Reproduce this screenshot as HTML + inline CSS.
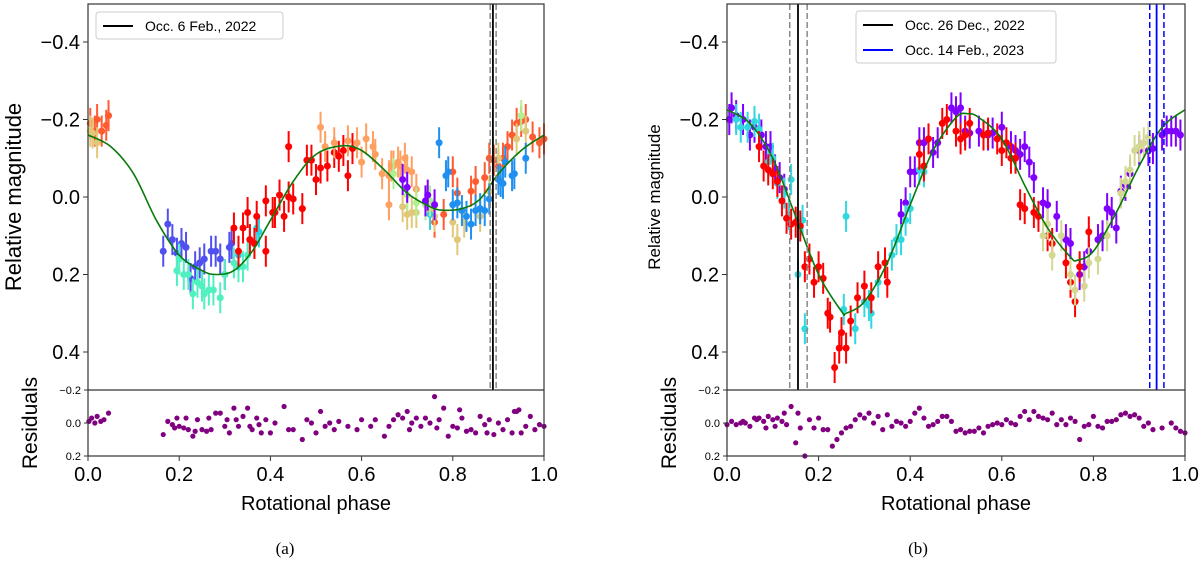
<!DOCTYPE html>
<html><head><meta charset="utf-8"><style>
body{margin:0;background:#fff}svg{display:block}text{font-family:"Liberation Sans","DejaVu Sans",sans-serif}
</style></head><body>
<svg id="s" width="1200" height="563" xmlns="http://www.w3.org/2000/svg"></svg>
<script>
// ---------- data: panel a ----------
const modelA_phase=[0,0.05,0.1,0.15,0.2,0.25,0.28,0.32,0.36,0.4,0.45,0.5,0.557,0.6,0.65,0.7,0.75,0.777,0.82,0.86,0.9,0.95,1.0];
const modelA_mag=[-0.16,-0.13,-0.06,0.06,0.15,0.19,0.2,0.19,0.14,0.06,-0.04,-0.11,-0.132,-0.12,-0.07,-0.01,0.025,0.034,0.03,0.005,-0.06,-0.12,-0.16];
const groupsA=[
{c:'#ff5a30',p:[0.005,0.015,0.02,0.03,0.04,0.045,0.76,0.78,0.8,0.81,0.84,0.85,0.87,0.88,0.89,0.9,0.91,0.92,0.93,0.94,0.95,0.96,0.975,0.99,1.0],m:[-0.19,-0.17,-0.2,-0.17,-0.185,-0.21,0.065,0.045,-0.065,-0.01,-0.015,-0.04,-0.05,-0.1,-0.095,-0.08,-0.1,-0.13,-0.16,-0.19,-0.195,-0.2,-0.155,-0.14,-0.15]},
{c:'#e0c878',p:[0.005,0.01,0.02,0.69,0.7,0.71,0.72,0.75,0.76,0.8,0.81,0.825,0.86,0.88,0.9,0.94,0.96],m:[-0.17,-0.165,-0.14,0.025,0.045,0.04,0.04,0.035,0.05,0.065,0.11,0.065,0.05,-0.015,-0.1,-0.15,-0.17]},
{c:'#5050f0',p:[0.165,0.175,0.185,0.195,0.205,0.215,0.225,0.235,0.245,0.255,0.27,0.28,0.29,0.3,0.31,0.315],m:[0.14,0.07,0.11,0.145,0.12,0.13,0.21,0.18,0.17,0.16,0.14,0.14,0.16,0.2,0.13,0.12]},
{c:'#50f0c0',p:[0.195,0.2,0.21,0.22,0.23,0.24,0.25,0.255,0.265,0.275,0.29,0.3,0.32,0.33,0.34,0.35],m:[0.19,0.16,0.2,0.2,0.25,0.22,0.23,0.25,0.24,0.24,0.26,0.2,0.17,0.18,0.18,0.15]},
{c:'#30d0e0',p:[0.33,0.355,0.37,0.375,0.75],m:[0.15,0.11,0.08,0.09,0.045]},
{c:'#ff0000',p:[0.32,0.33,0.34,0.35,0.355,0.365,0.37,0.39,0.39,0.405,0.41,0.42,0.43,0.44,0.45,0.44,0.47,0.48,0.49,0.5,0.51,0.525,0.54,0.55,0.56,0.57,0.58],m:[0.08,0.14,0.08,0.04,0.11,0.12,0.05,0.14,0.01,0.04,0.04,-0.005,0.05,0,0.005,-0.13,0.03,-0.095,-0.095,-0.045,-0.075,-0.08,-0.115,-0.105,-0.12,-0.055,-0.125]},
{c:'#ffa060',p:[0.51,0.52,0.54,0.57,0.59,0.6,0.61,0.625,0.63,0.645,0.66,0.665,0.67,0.68,0.685,0.695,0.66,0.7,0.71,0.72],m:[-0.18,-0.13,-0.14,-0.145,-0.14,-0.09,-0.15,-0.13,-0.11,-0.06,-0.055,-0.08,-0.08,-0.09,-0.08,-0.1,0.02,-0.07,-0.065,-0.02]},
{c:'#b0f090',p:[0.67,0.7,0.72,0.74,0.75,0.76,0.95],m:[-0.06,-0.005,0.015,0.02,0.01,0.025,-0.21]},
{c:'#8000ff',p:[0.69,0.7,0.74,0.745,0.76],m:[-0.045,-0.025,0.01,-0.005,0.02]},
{c:'#2090f0',p:[0.77,0.785,0.79,0.8,0.81,0.82,0.83,0.84,0.85,0.86,0.87,0.88,0.9,0.905,0.91,0.915,0.93,0.935,0.96],m:[-0.14,-0.055,-0.065,0.02,0.015,0.035,0.05,0.07,0.035,0.03,0.035,0.005,-0.045,-0.04,-0.035,-0.09,-0.055,-0.06,-0.1]}
];
const resA_phase=[0.002,0.008,0.015,0.02,0.028,0.035,0.045,0.165,0.175,0.185,0.19,0.195,0.2,0.21,0.215,0.22,0.23,0.235,0.24,0.25,0.26,0.265,0.27,0.28,0.29,0.3,0.305,0.31,0.32,0.325,0.33,0.34,0.35,0.355,0.36,0.37,0.375,0.38,0.39,0.4,0.41,0.43,0.44,0.45,0.47,0.48,0.49,0.5,0.51,0.52,0.53,0.54,0.55,0.57,0.59,0.6,0.62,0.63,0.65,0.66,0.67,0.68,0.69,0.7,0.705,0.71,0.72,0.73,0.74,0.75,0.76,0.765,0.77,0.78,0.79,0.8,0.81,0.815,0.82,0.83,0.84,0.85,0.86,0.87,0.875,0.88,0.89,0.9,0.91,0.92,0.93,0.935,0.94,0.945,0.95,0.96,0.97,0.98,0.99,1.0];
const resA_val=[-0.01,-0.03,0,-0.04,-0.01,-0.02,-0.06,0.07,-0.01,0.01,0.03,-0.03,0.02,0.03,-0.03,0.04,0.08,0.05,-0.02,0.04,0.05,-0.03,0.04,-0.06,-0.06,0.02,-0.02,0.06,-0.09,-0.02,0.02,-0.04,-0.09,0.02,0.04,-0.03,0.01,0.06,-0.02,0.06,0,-0.1,0.04,0.04,0.1,-0.02,0,0.06,-0.07,0.02,0,0.04,-0.01,0.02,0.04,-0.02,0.02,-0.02,0.08,0.02,-0.02,-0.05,-0.03,-0.07,0.04,0,-0.03,0.02,-0.03,0,-0.16,0.03,-0.02,-0.09,0.08,0.02,0.03,-0.08,-0.03,0.05,0.04,0.06,-0.04,0.01,0.06,-0.02,0.07,0,0.04,-0.02,0.06,-0.07,-0.07,-0.08,0.06,0.02,-0.04,0.04,0.01,0.02];
// ---------- data: panel b ----------
const modelB_phase=[0,0.05,0.1,0.15,0.2,0.25,0.26,0.3,0.35,0.4,0.45,0.5,0.525,0.55,0.6,0.65,0.7,0.75,0.765,0.8,0.85,0.9,0.95,1.0];
const modelB_mag=[-0.225,-0.19,-0.1,0.05,0.2,0.295,0.3,0.27,0.17,0.02,-0.12,-0.205,-0.215,-0.205,-0.15,-0.03,0.08,0.155,0.163,0.14,0.04,-0.08,-0.18,-0.225];
const groupsB=[
{c:'#8000ff',p:[0.005,0.01,0.02,0.035,0.05,0.06,0.075,0.085,0.095,0.105,0.115,0.125,0.38,0.39,0.4,0.41,0.42,0.43,0.45,0.46,0.49,0.5,0.51,0.52,0.53,0.55,0.57,0.58,0.6,0.62,0.63,0.64,0.65,0.66,0.67,0.69,0.7,0.72,0.74,0.75,0.77,0.78,0.79,0.81,0.82,0.83,0.84,0.85,0.86,0.87,0.88,0.9,0.92,0.93,0.95,0.96,0.97,0.98,0.99],m:[-0.2,-0.23,-0.21,-0.2,-0.16,-0.18,-0.16,-0.13,-0.13,-0.07,-0.05,-0.02,0.045,0.015,-0.065,-0.065,-0.14,-0.14,-0.115,-0.14,-0.23,-0.22,-0.23,-0.17,-0.165,-0.17,-0.16,-0.165,-0.18,-0.13,-0.12,-0.11,-0.13,-0.09,-0.05,0.015,0.02,0.05,0.11,0.12,0.2,0.18,0.14,0.11,0.1,0.03,0.04,0.08,-0.015,-0.03,-0.06,-0.12,-0.12,-0.125,-0.16,-0.17,-0.17,-0.17,-0.16]},
{c:'#30d8e0',p:[0.02,0.03,0.045,0.06,0.07,0.09,0.1,0.11,0.125,0.135,0.14,0.155,0.165,0.17,0.26,0.255,0.28,0.3,0.31,0.315,0.33,0.36,0.37,0.38,0.39,0.4,0.42,0.43],m:[-0.2,-0.18,-0.18,-0.195,-0.175,-0.09,-0.1,-0.035,-0.01,0.045,-0.045,0.2,0.06,0.34,0.05,0.29,0.34,0.27,0.28,0.3,0.22,0.15,0.11,0.11,0.06,0.03,-0.07,-0.065]},
{c:'#ff0000',p:[0.07,0.08,0.09,0.1,0.11,0.12,0.13,0.14,0.15,0.16,0.17,0.18,0.19,0.2,0.21,0.22,0.225,0.235,0.245,0.25,0.26,0.27,0.285,0.3,0.315,0.33,0.345,0.35,0.42,0.43,0.44,0.47,0.48,0.5,0.51,0.52,0.53,0.56,0.57,0.59,0.6,0.61,0.62,0.63,0.64,0.65,0.67,0.68,0.7,0.71,0.74,0.75,0.76,0.77,0.79],m:[-0.13,-0.08,-0.07,-0.06,-0.04,0.01,0.055,0.07,0.065,0.075,0.18,0.16,0.22,0.18,0.21,0.3,0.31,0.44,0.39,0.35,0.39,0.32,0.26,0.23,0.26,0.18,0.17,0.22,-0.11,-0.08,-0.15,-0.19,-0.2,-0.17,-0.15,-0.16,-0.19,-0.16,-0.165,-0.15,-0.12,-0.14,-0.1,-0.1,0.02,0.03,0.04,0.05,0.1,0.12,0.17,0.22,0.27,0.18,0.09]},
{c:'#d4d890',p:[0.69,0.7,0.71,0.73,0.75,0.76,0.78,0.79,0.81,0.83,0.86,0.87,0.88,0.89,0.9,0.91,0.92],m:[0.1,0.07,0.15,0.1,0.2,0.24,0.23,0.17,0.16,0.1,-0.01,-0.04,-0.07,-0.12,-0.13,-0.14,-0.155]}
];
const resB_phase=[0,0.01,0.02,0.03,0.035,0.04,0.05,0.06,0.065,0.07,0.08,0.085,0.09,0.1,0.105,0.11,0.12,0.125,0.13,0.14,0.15,0.155,0.16,0.17,0.18,0.19,0.2,0.21,0.22,0.23,0.24,0.25,0.26,0.27,0.28,0.29,0.3,0.31,0.32,0.33,0.34,0.35,0.36,0.37,0.38,0.39,0.4,0.41,0.42,0.43,0.44,0.45,0.46,0.47,0.48,0.49,0.5,0.51,0.52,0.53,0.54,0.55,0.56,0.57,0.58,0.59,0.6,0.61,0.62,0.63,0.64,0.65,0.66,0.67,0.68,0.69,0.7,0.71,0.72,0.73,0.74,0.75,0.76,0.77,0.78,0.79,0.8,0.81,0.82,0.83,0.84,0.85,0.86,0.87,0.88,0.89,0.9,0.91,0.92,0.93,0.95,0.97,0.98,0.99,1.0];
const resB_val=[0.01,-0.01,0.01,0,-0.01,0,0.02,-0.03,-0.02,-0.03,-0.01,0.03,-0.04,-0.02,0.02,-0.03,-0.01,-0.06,0.01,-0.1,0.12,-0.06,0.03,0.2,-0.02,0.03,-0.03,0.04,0.04,0.14,0.1,0.06,0.03,0.02,-0.02,-0.05,-0.03,-0.06,0,-0.04,0.04,-0.05,0.02,-0.01,0,0.02,-0.01,-0.06,-0.09,-0.03,0.02,0.01,-0.01,-0.04,-0.04,-0.01,0.05,0.04,0.06,0.05,0.05,0.03,0.06,0.02,0.01,0,0.01,-0.02,0,0.01,-0.04,-0.07,-0.02,-0.07,-0.04,-0.03,-0.02,-0.06,0.01,-0.02,0.01,-0.03,-0.01,0.1,0.02,0.01,-0.04,0.02,0.03,-0.01,-0.01,-0.02,-0.05,-0.06,-0.04,-0.05,-0.03,0.02,0,0.04,0.03,0,0.03,0.05,0.06];
// ---------- drawing ----------
const NS='http://www.w3.org/2000/svg',S=document.getElementById('s');
function el(t,a,txt){const e=document.createElementNS(NS,t);for(const k in a)e.setAttribute(k,a[k]);if(txt!==undefined)e.textContent=txt;S.appendChild(e);return e;}
function panel(P){
 const X=p=>P.x0+p*(P.x1-P.x0);
 const Y=m=>197+m*387.5;
 const RY=r=>423+r*(456-390)/0.4;
 // smooth model path (Catmull-Rom through sampled points)
 const pts=P.mp.map((p,i)=>[X(p),Y(P.mm[i])]);
 let d='M'+pts[0][0].toFixed(1)+' '+pts[0][1].toFixed(1);
 for(let i=0;i<pts.length-1;i++){const p0=pts[Math.max(0,i-1)],p1=pts[i],p2=pts[i+1],p3=pts[Math.min(pts.length-1,i+2)];
  const c1=[p1[0]+(p2[0]-p0[0])/6,p1[1]+(p2[1]-p0[1])/6],c2=[p2[0]-(p3[0]-p1[0])/6,p2[1]-(p3[1]-p1[1])/6];
  d+=`C${c1[0].toFixed(1)} ${c1[1].toFixed(1)} ${c2[0].toFixed(1)} ${c2[1].toFixed(1)} ${p2[0].toFixed(1)} ${p2[1].toFixed(1)}`;}
 P.groups.forEach((g,gi)=>{g.p.forEach((p,i)=>{
  const l=el('line',{x1:X(p),x2:X(p),y1:Y(g.m[i]-0.04),y2:Y(g.m[i]+0.04),stroke:g.c,'stroke-width':2});
  
  
  const c=el('circle',{cx:X(p),cy:Y(g.m[i]),r:3.5,fill:g.c});
  
  
 });});
 const g=el('path',{d:d,fill:'none',stroke:'#0a7a0a','stroke-width':1.6});
 
 
 P.occ.forEach(o=>{
  const a=el('line',{x1:X(o.p),x2:X(o.p),y1:4,y2:390,stroke:o.c,'stroke-width':1.8});
  
  
  [o.lo,o.hi].forEach(q=>{const b=el('line',{x1:X(q),x2:X(q),y1:4,y2:390,stroke:o.dc,'stroke-width':1.5,'stroke-dasharray':'6,3'});
  
  });
 });
 P.rp.forEach((p,i)=>{const c=el('circle',{cx:X(p),cy:RY(P.rv[i]),r:2.6,fill:'#800080'});
  
  });
 const f=el('rect',{x:P.x0,y:4,width:P.x1-P.x0,height:452,fill:'none',stroke:'#333','stroke-width':1.2});
 
 
 const sep=el('line',{x1:P.x0,x2:P.x1,y1:390,y2:390,stroke:'#333','stroke-width':1.2});
 
 
 [-0.4,-0.2,0,0.2,0.4].forEach(v=>{el('line',{x1:P.x0-5,x2:P.x0,y1:Y(v),y2:Y(v),stroke:'#333'});
  const t=el('text',{x:P.x0-8,y:Y(v)+7,'text-anchor':'end','font-size':20},(v<0?'\u2212':'')+Math.abs(v).toFixed(1));
  
  });
 [[-0.2,'\u22120.2'],[0,'0.0'],[0.2,'0.2']].forEach(a=>{el('line',{x1:P.x0-4,x2:P.x0,y1:RY(a[0]),y2:RY(a[0]),stroke:'#333'});
  const t=el('text',{x:P.x0-7,y:RY(a[0])+4,'text-anchor':'end','font-size':11},a[1]);
  
  });
 [0,0.2,0.4,0.6,0.8,1].forEach(v=>{el('line',{x1:X(v),x2:X(v),y1:456,y2:461,stroke:'#333'});
  const t=el('text',{x:X(v),y:481,'text-anchor':'middle','font-size':20},v.toFixed(1));
  
  });
 const xl=el('text',{x:(P.x0+P.x1)/2,y:510,'text-anchor':'middle','font-size':20},'Rotational phase');
 
 
 const yl=el('text',{x:P.yl,y:197,'text-anchor':'middle','font-size':P.ylf,transform:`rotate(-90 ${P.yl} 197)`},'Relative magnitude');
 
 
 const rl=el('text',{x:P.rl,y:423,'text-anchor':'middle','font-size':21,transform:`rotate(-90 ${P.rl} 423)`},'Residuals');
 
 
 const cap=el('text',{x:P.capx,y:554,'text-anchor':'middle','font-size':17,style:'font-family:"Liberation Serif",serif'},P.cap);
 
 
 const lg=el('rect',{x:P.lx,y:P.ly,width:P.lw,height:P.leg.length*25+2,rx:3,fill:'#fff',stroke:'#ccc'});
 
 
 P.leg.forEach((L,i)=>{const yy=P.ly+14+i*25;el('line',{x1:P.lx+7,x2:P.lx+37,y1:yy,y2:yy,stroke:L.c,'stroke-width':2});
  const t=el('text',{x:P.lx+49,y:yy+5,'font-size':14},L.t);
  
  });
}
panel({x0:88,x1:544,mp:modelA_phase,mm:modelA_mag,groups:groupsA,rp:resA_phase,rv:resA_val,
 occ:[{p:0.888,lo:0.882,hi:0.895,c:'#000',dc:'#888'}],yl:21,ylf:22,rl:37,cap:'(a)',capx:285,lx:96,ly:12,lw:187,leg:[{c:'#000',t:'Occ. 6 Feb., 2022'}]});
panel({x0:727,x1:1185,mp:modelB_phase,mm:modelB_mag,groups:groupsB,rp:resB_phase,rv:resB_val,
 occ:[{p:0.155,lo:0.137,hi:0.175,c:'#000',dc:'#888'},{p:0.938,lo:0.923,hi:0.954,c:'#0000ff',dc:'#0000ff'}],yl:660,ylf:17,rl:676,cap:'(b)',capx:918,lx:856,ly:11,lw:200,leg:[{c:'#000',t:'Occ. 26 Dec., 2022'},{c:'#0000ff',t:'Occ. 14 Feb., 2023'}]});
</script>
</body></html>
